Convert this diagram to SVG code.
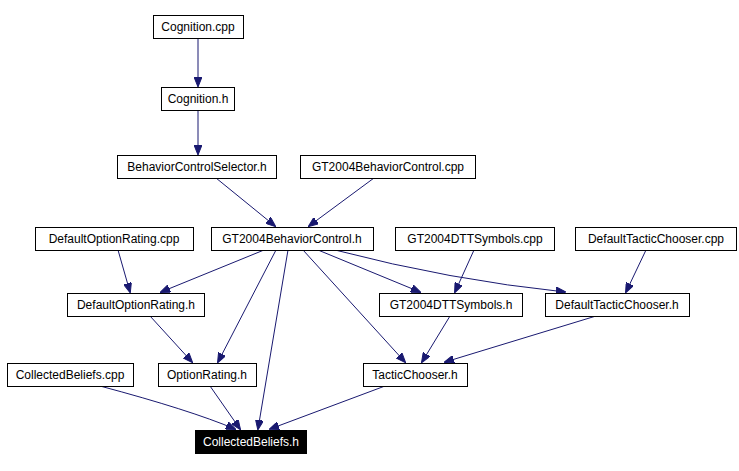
<svg xmlns="http://www.w3.org/2000/svg" width="739" height="471" viewBox="0 0 739 471">
<style>
.n rect{fill:#fff;stroke:#000;stroke-width:1}
.n text{font-family:"Liberation Sans",Arial,sans-serif;font-size:12px;text-anchor:middle;fill:#000}
#collectedbeliefs_h rect{fill:#000}
#collectedbeliefs_h text{fill:#fff}
.e path{fill:none;stroke:#191970;stroke-width:1;marker-end:url(#a)}
</style>
<defs><marker id="a" markerWidth="10" markerHeight="8" refX="9" refY="4" orient="auto" markerUnits="userSpaceOnUse"><path d="M0,0 L10,4 L0,8 Z" fill="#191970" stroke="#191970"/></marker></defs>
<rect width="739" height="471" fill="#fff"/>
<g class="e">
<path d="M198,38 L198,86"/>
<path d="M198,110 L198,154"/>
<path d="M216,178 L275,226"/>
<path d="M374,178 L309,226"/>
<path d="M118,250 L130,292"/>
<path d="M264,250 L161,292"/>
<path d="M276,250 L218,362"/>
<path d="M288,250 L258,429"/>
<path d="M303,250 L405,362"/>
<path d="M318,250 L420,292"/>
<path d="M335,250 Q450,280 565,292"/>
<path d="M474,250 L455,292"/>
<path d="M646,250 L626,292"/>
<path d="M150,316 L192,362"/>
<path d="M450,316 L422,362"/>
<path d="M596,316 L445,362"/>
<path d="M100,386 Q190,410 235,429"/>
<path d="M210,386 L240,429"/>
<path d="M385,386 L270,429"/>
</g>
<g class="n" id="cognition_cpp"><rect x="153.5" y="15.5" width="90" height="23"/><text x="198" y="31">Cognition.cpp</text></g>
<g class="n" id="cognition_h"><rect x="161.5" y="87.5" width="73" height="23"/><text x="198" y="103">Cognition.h</text></g>
<g class="n" id="bcs_h"><rect x="117.5" y="155.5" width="159" height="23"/><text x="197" y="171">BehaviorControlSelector.h</text></g>
<g class="n" id="gtbc_cpp"><rect x="300.5" y="155.5" width="175" height="23"/><text x="388" y="171">GT2004BehaviorControl.cpp</text></g>
<g class="n" id="dor_cpp"><rect x="35.5" y="227.5" width="158" height="23"/><text x="114" y="243">DefaultOptionRating.cpp</text></g>
<g class="n" id="gtbc_h"><rect x="211.5" y="227.5" width="162" height="23"/><text x="292" y="243">GT2004BehaviorControl.h</text></g>
<g class="n" id="dtt_cpp"><rect x="395.5" y="227.5" width="159" height="23"/><text x="475" y="243">GT2004DTTSymbols.cpp</text></g>
<g class="n" id="dtc_cpp"><rect x="575.5" y="227.5" width="161" height="23"/><text x="656" y="243">DefaultTacticChooser.cpp</text></g>
<g class="n" id="dor_h"><rect x="67.5" y="293.5" width="137" height="23"/><text x="136" y="309">DefaultOptionRating.h</text></g>
<g class="n" id="dtt_h"><rect x="379.5" y="293.5" width="143" height="23"/><text x="451" y="309">GT2004DTTSymbols.h</text></g>
<g class="n" id="dtc_h"><rect x="545.5" y="293.5" width="144" height="23"/><text x="617" y="309">DefaultTacticChooser.h</text></g>
<g class="n" id="cb_cpp"><rect x="7.5" y="363.5" width="126" height="23"/><text x="70" y="379">CollectedBeliefs.cpp</text></g>
<g class="n" id="or_h"><rect x="158.5" y="363.5" width="98" height="23"/><text x="207" y="379">OptionRating.h</text></g>
<g class="n" id="tc_h"><rect x="363.5" y="363.5" width="104" height="23"/><text x="415" y="379">TacticChooser.h</text></g>
<g class="n" id="collectedbeliefs_h"><rect x="195.5" y="430.5" width="111" height="23"/><text x="251" y="446">CollectedBeliefs.h</text></g>
</svg>
